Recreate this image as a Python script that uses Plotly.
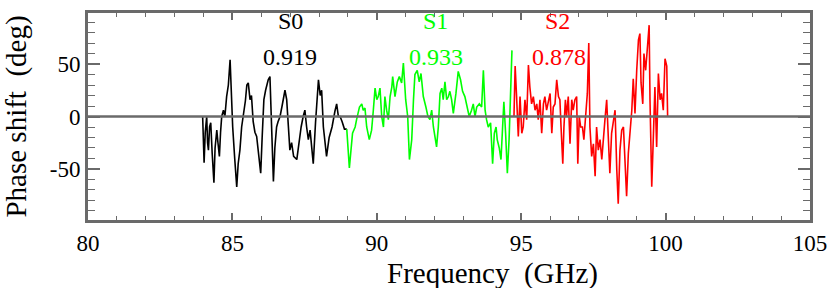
import plotly.graph_objects as go

# ---- data ----
s0_freq = [83.97, 84.00, 84.02, 84.06, 84.11, 84.14, 84.17, 84.21, 84.25, 84.30, 84.36, 84.40, 84.46, 84.50,
           84.55, 84.59, 84.63, 84.69, 84.74, 84.80, 84.86, 84.92, 84.96, 85.01, 85.08, 85.15, 85.20, 85.26,
           85.32, 85.38, 85.45, 85.50, 85.55, 85.61, 85.66, 85.72, 85.78, 85.84, 85.90, 85.98, 86.03, 86.09,
           86.15, 86.24, 86.30, 86.34, 86.38, 86.42, 86.47, 86.53, 86.58, 86.65, 86.72, 86.82, 86.88, 86.93,
           86.99, 87.05, 87.12, 87.23, 87.30, 87.38, 87.45, 87.51, 87.57, 87.63, 87.69, 87.75, 87.80, 87.88,
           87.93, 87.98, 88.04, 88.09, 88.15, 88.20, 88.26, 88.35, 88.45, 88.55, 88.61, 88.67, 88.73, 88.80,
           88.88, 88.96]
s0_phase = [0, -20, -44, -15, 0, -25, -32, -10, -6, -35, -63, -30, -13, -25,
            -38, -15, 0, 6, 0, 19, 30, 54, 20, -10, -40, -67, -45, -32,
            -10, 0, 15, 30, 32, 16, 20, -5, -15, -19, -35, -54, -20, 16,
            25, 35, 38, 10, -30, -62, -30, -10, -5, 0, 10, 25, 16, -5,
            -32, -25, -38, -41, -25, -10, 0, 6, -10, -22, -13, -30, -45, -5,
            20, 35, 20, 25, -10, -25, -38, -20, -10, 5, 12, 0, 0, -5,
            -12, -12]

s1_freq = [88.96, 89.05, 89.16, 89.25, 89.30, 89.40, 89.48, 89.53, 89.59, 89.65, 89.74, 89.82, 89.88, 89.94,
           90.00, 90.05, 90.11, 90.17, 90.23, 90.28, 90.34, 90.40, 90.46, 90.52, 90.55, 90.63, 90.71, 90.78,
           90.86, 90.92, 91.00, 91.07, 91.13, 91.21, 91.27, 91.32, 91.40, 91.47, 91.53, 91.61, 91.70, 91.77,
           91.84, 91.90, 91.96, 92.02, 92.07, 92.13, 92.19, 92.25, 92.30, 92.36, 92.42, 92.48, 92.53, 92.59,
           92.65, 92.74, 92.82, 92.90, 92.97, 93.05, 93.13, 93.20, 93.28, 93.34, 93.40, 93.46, 93.55, 93.63,
           93.69, 93.75, 93.80, 93.86, 93.94, 94.01, 94.07, 94.13, 94.17, 94.24, 94.30, 94.36, 94.40, 94.46,
           94.52, 94.58, 94.64, 94.68]
s1_phase = [-12, -49, -16, -10, -3, 9, 12, 6, 8, -10, -22, -13, 6, 27,
            16, 19, 27, 0, -10, 19, 6, -3, 19, 28, 38, 19, 33, 38,
            32, 51, 16, 0, -41, -22, 16, 40, 44, 33, 41, 19, 9, 0,
            -3, 6, -10, -21, -29, -10, 22, 27, 16, 33, 16, 19, 24, 16,
            3, 22, 43, 35, 24, 19, 9, 0, 6, 12, 0, 9, 12, 9,
            44, 6, -3, -10, -6, -45, -16, -10, -22, -30, -41, -3, 14, -16,
            -54, -22, 22, 63]

s2_freq = [94.75, 94.79, 94.84, 94.90, 94.96, 95.02, 95.07, 95.13, 95.19, 95.25, 95.30, 95.36, 95.42, 95.48,
           95.54, 95.59, 95.65, 95.71, 95.77, 95.82, 95.88, 95.94, 96.00, 96.06, 96.11, 96.17, 96.23, 96.29,
           96.34, 96.38, 96.44, 96.48, 96.53, 96.57, 96.63, 96.69, 96.75, 96.80, 96.86, 96.92, 96.96, 97.01,
           97.06, 97.12, 97.17, 97.23, 97.29, 97.34, 97.38, 97.44, 97.50, 97.56, 97.61, 97.67, 97.73, 97.79,
           97.84, 97.90, 97.96, 98.02, 98.07, 98.13, 98.19, 98.25, 98.31, 98.36, 98.42, 98.48, 98.54, 98.59,
           98.65, 98.71, 98.77, 98.83, 98.88, 98.94, 99.00, 99.06, 99.11, 99.15, 99.21, 99.25, 99.31, 99.43,
           99.46, 99.52, 99.58, 99.63, 99.69, 99.75, 99.81, 99.86, 99.92, 99.98, 100.04, 100.07]
s2_phase = [0, 48, 19, -19, 19, -16, -10, 16, -3, 49, 28, 12, 19, 6,
            12, -3, 16, -16, 12, 19, 6, 16, 22, -16, 9, 12, 35, 19,
            16, -10, -45, -10, 16, 0, 19, -26, 16, 6, 16, 19, -45, 0,
            -10, -10, -22, 0, 22, 70, -10, -38, -26, -57, -10, -32, -22, -41,
            -19, -3, 16, -29, -54, -16, -6, 6, -51, -83, -32, -13, -10, -41,
            -76, -35, -13, 6, 36, 3, 44, 73, 79, 32, 12, 60, 44, 87,
            16, -67, -16, 28, -29, 41, 16, 22, 6, 55, 48, 0]

seg_names = ["S0", "S1", "S2"]
seg_values = ["0.919", "0.933", "0.878"]
seg_colors = ["#000000", "#00ff00", "#ff0000"]
seg_label_x = [87.0, 92.02, 96.25]
seg_value_x = [87.0, 92.05, 96.32]

x_ticks = [80, 85, 90, 95, 100, 105]
y_ticks = [-50, 0, 50]

FONT = "Liberation Serif"
GRAY = "#6a6a6a"

fig = go.Figure()
for fx, ph, col, nm in zip([s0_freq, s1_freq, s2_freq], [s0_phase, s1_phase, s2_phase], seg_colors, seg_names):
    fig.add_trace(go.Scatter(x=fx, y=ph, mode="lines", name=nm,
                             line=dict(color=col, width=1.6), showlegend=False))

# zero line drawn above the data
fig.add_shape(type="line", xref="paper", x0=0, x1=1, yref="y", y0=0, y1=0,
              line=dict(color=GRAY, width=2.5), layer="above")

for nm, val, col, lx, vx in zip(seg_names, seg_values, seg_colors, seg_label_x, seg_value_x):
    fig.add_annotation(x=lx, y=91, text=nm, showarrow=False, yanchor="middle",
                       font=dict(family=FONT, size=24, color=col))
    fig.add_annotation(x=vx, y=56.5, text=val, showarrow=False, yanchor="middle",
                       font=dict(family=FONT, size=24, color=col))

# x-axis title (placed right of centre, as in the reference)
fig.add_annotation(xref="paper", yref="paper", x=0.56, y=-0.258, text="Frequency\u00a0\u00a0(GHz)",
                   showarrow=False, xanchor="center", yanchor="middle",
                   font=dict(family=FONT, size=29, color="black"))

fig.update_layout(
    width=830, height=288,
    margin=dict(l=88, r=20, t=13, b=68, autoexpand=False),
    plot_bgcolor="white", paper_bgcolor="white",
    font=dict(family=FONT, size=23, color="black"),
)
fig.update_xaxes(
    range=[80, 105], tickvals=x_ticks, ticktext=[str(v) for v in x_ticks], automargin=False,
    showgrid=False, zeroline=False, showline=True, linecolor=GRAY, linewidth=3, mirror="ticks",
    ticks="inside", ticklen=7, tickwidth=1.5, tickcolor=GRAY,
    minor=dict(ticks="inside", dtick=1, ticklen=4, tickwidth=1.2, tickcolor=GRAY),
    tickfont=dict(family=FONT, size=23, color="black"),
)
fig.update_yaxes(
    range=[-98.6, 98.6], tickvals=y_ticks, ticktext=[str(v) for v in y_ticks], automargin=False,
    showgrid=False, zeroline=False, showline=True, linecolor=GRAY, linewidth=3, mirror="ticks",
    ticks="inside", ticklen=12, tickwidth=1.5, tickcolor=GRAY,
    minor=dict(ticks="inside", dtick=10, ticklen=7, tickwidth=1.2, tickcolor=GRAY),
    tickfont=dict(family=FONT, size=23, color="black"),
    title=dict(text="Phase shift\u00a0\u00a0(deg)", font=dict(family=FONT, size=29, color="black"), standoff=19),
)

fig.write_html("out.html", config={"displayModeBar": False},
               post_script="document.body.style.margin='0';document.body.style.overflow='hidden';")
